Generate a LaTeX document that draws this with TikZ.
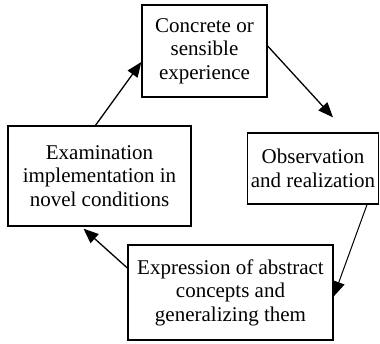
\documentclass[tikz,border=0pt]{standalone}
\usepackage{fontspec}
\setmainfont{Liberation Serif}
\usetikzlibrary{arrows.meta}
\begin{document}
\begin{tikzpicture}[x=1pt,y=-1pt,
  box/.style={draw,line width=1.3pt,rectangle,inner sep=0pt,align=center,
    font=\fontsize{21}{23.5}\selectfont},
  arr/.style={line width=1.3pt,-{Triangle[length=15pt,width=12pt]}}]
\useasboundingbox (0,0) rectangle (380,343);
\node[box,minimum width=125pt,minimum height=92pt] (top) at (204.5,51)
  {Concrete or\\sensible\\experience};
\node[box,minimum width=183pt,minimum height=100pt] (left) at (99.5,176)
  {Examination\\implementation in\\novel conditions};
\node[box,minimum width=131pt,minimum height=71pt] (right) at (313,168.5)
  {Observation\\and realization};
\node[box,minimum width=205pt,minimum height=95pt] (bottom) at (230.5,292.5)
  {Expression of abstract\\concepts and\\generalizing them};
\coordinate (a2) at ([xshift=20pt,yshift=15pt]right.north);
\draw[arr] ([xshift=-4pt]left.north) -- ([yshift=-11pt]top.west);
\draw[arr] ([yshift=5pt]top.east) -- (a2);
\draw[arr,line width=1pt] ([xshift=54pt]right.south) -- ([yshift=-4pt]bottom.east);
\draw[arr] ([yshift=24.5pt]bottom.west) -- ([xshift=-16pt,yshift=-2pt]left.south);
\end{tikzpicture}
\end{document}
